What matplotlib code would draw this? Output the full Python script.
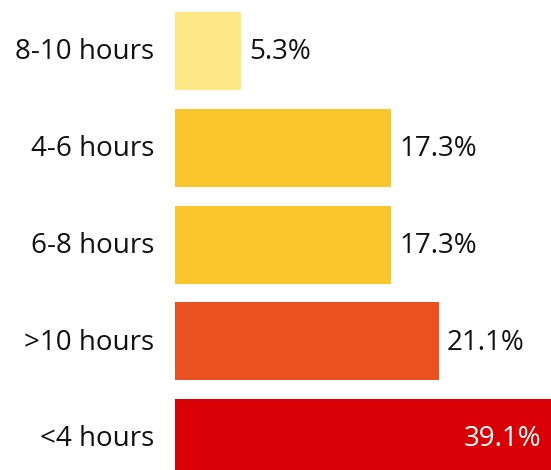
import matplotlib.pyplot as plt

# data, top to bottom as in the chart
categories = ['8-10 hours', '4-6 hours', '6-8 hours', '>10 hours', '<4 hours']
shares = [5.3, 17.3, 17.3, 21.1, 39.1]
colors = ['#FEE886', '#F9C62E', '#F9C62E', '#E95220', '#D80004']

plt.rcParams['font.family'] = ['Open Sans', 'DejaVu Sans']

fig = plt.figure(figsize=(5.51, 4.70), dpi=100)
# axes starts where the bars start, runs off the right edge like the original
ax = fig.add_axes([175 / 551, 0, 1 - 175 / 551, 1])

pos = list(range(len(categories)))
ax.barh(pos, shares, height=0.806, color=colors)

xmax = 30.1
ax.set_xlim(0, xmax)
ax.set_ylim(4.33, -0.527)

fs = 20
for p, v in zip(pos, shares):
    if v > xmax:
        # clipped bar: label sits inside, right aligned, in white
        ax.annotate(f'{v}%', xy=(xmax, p), xytext=(-7, -1), textcoords='offset points',
                    ha='right', va='center', color='white', fontsize=fs)
    else:
        ax.annotate(f'{v}%', xy=(v, p), xytext=(6, -1), textcoords='offset points',
                    ha='left', va='center', color='#111111', fontsize=fs)

for p, c in zip(pos, categories):
    ax.annotate(c, xy=(0, p), xytext=(-15, -1), textcoords='offset points',
                ha='right', va='center', color='#111111', fontsize=fs,
                annotation_clip=False)

ax.axis('off')
fig.savefig('out.png', dpi=100)
